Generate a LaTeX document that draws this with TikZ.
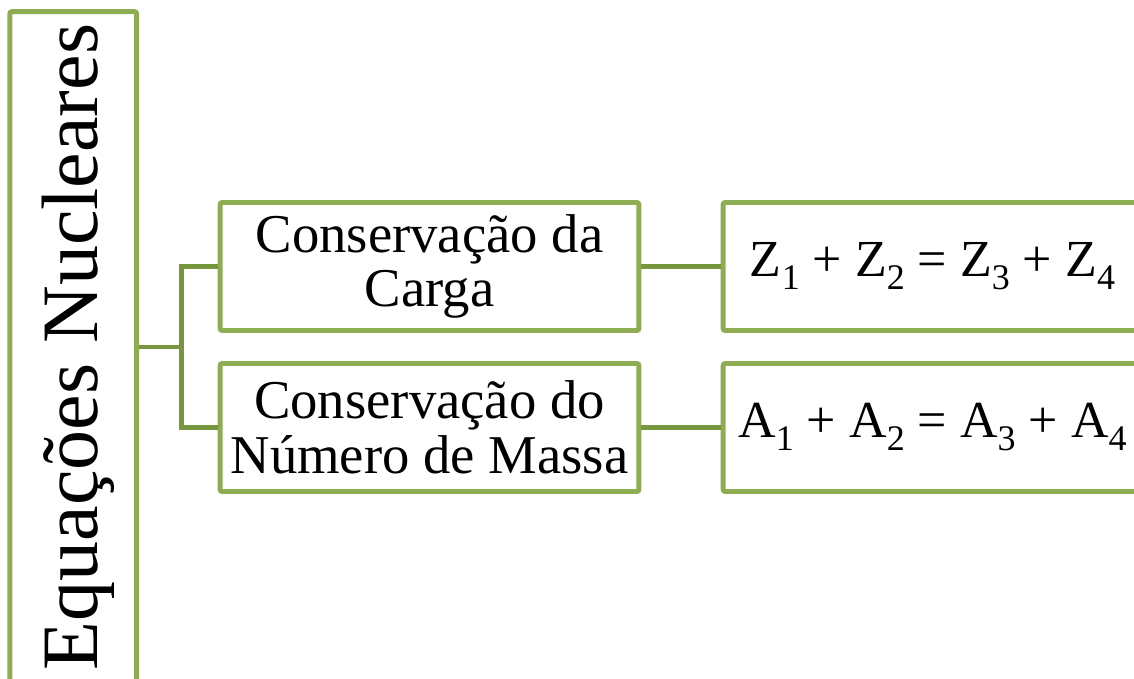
\documentclass[tikz,border=0pt]{standalone}
\usepackage{fontspec}
\setmainfont{Liberation Serif}
\definecolor{boxgreen}{RGB}{142,172,82}
\definecolor{linkgreen}{RGB}{120,150,62}
\newcommand\low[1]{\raisebox{-0.25em}{\fontsize{27}{27}\selectfont #1}}
\tikzset{
  box/.style={draw=boxgreen, line width=3.7pt, rounded corners=1.5pt, fill=white,
    align=center, inner sep=0pt, minimum width=314pt, minimum height=96pt,
    font=\fontsize{41}{41}\selectfont},
  eqbox/.style={box, font=\fontsize{39}{41}\selectfont},
  link/.style={draw=linkgreen, line width=3.7pt},
}
\begin{document}
\begin{tikzpicture}[x=0.75pt,y=-0.75pt]
        \clip (0,0) rectangle (1134,678);
        \node[box, rotate=90, minimum width=503pt, minimum height=95pt,
          font=\fontsize{60}{60}\selectfont, text height=48pt, text depth=12pt]
          (root) at (73.25,347) {Equações Nucleares};
        \node[box] (carga) at (429.5,266.5) {Conservação da\\Carga};
        \node[box] (massa) at (429.5,427.5) {Conservação do\\Número de Massa};
        \node[eqbox] (eqz) at (932.5,266.5) {Z\low{1} + Z\low{2} = Z\low{3} + Z\low{4}};
        \node[eqbox] (eqa) at (932.5,427.5) {A\low{1} + A\low{2} = A\low{3} + A\low{4}};
        \draw[link] (root.south) -- ++(42.5,0) coordinate (fork);
        \draw[link] (carga.west) -| (fork) |- (massa.west);
        \draw[link] (carga) -- (eqz);
        \draw[link] (massa) -- (eqa);
\end{tikzpicture}
\end{document}
